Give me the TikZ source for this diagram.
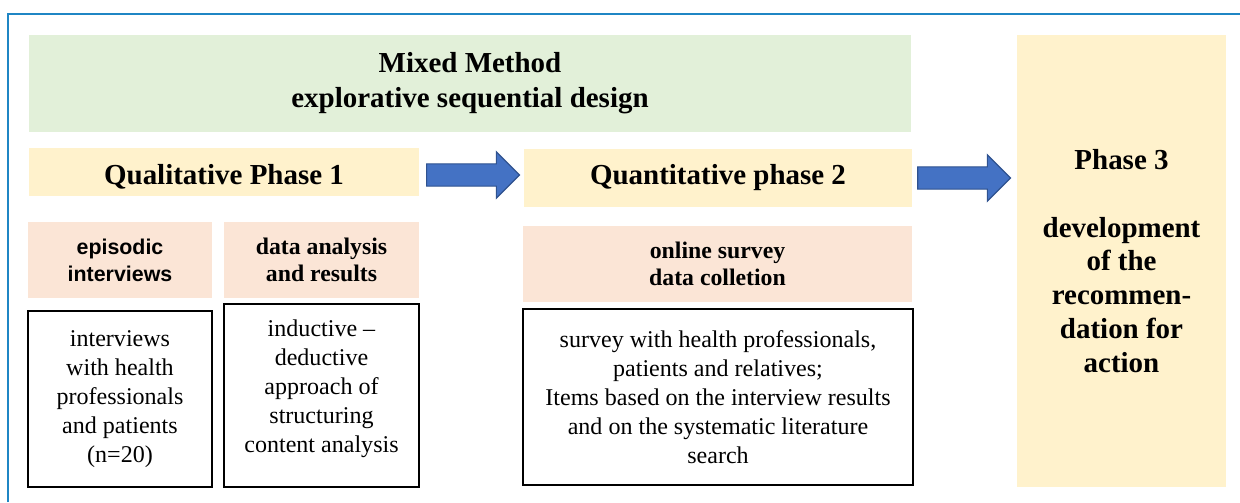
\documentclass[tikz,border=0pt]{standalone}
\usepackage{fontspec}
\setmainfont{Liberation Serif}
\setsansfont{Liberation Sans}
\usetikzlibrary{shapes.arrows}
\usetikzlibrary{calc}
\definecolor{framecol}{HTML}{1F86C4}
\definecolor{mixgreen}{HTML}{E2F0D9}
\definecolor{phyellow}{HTML}{FFF2CC}
\definecolor{subpeach}{HTML}{FBE5D6}
\definecolor{arblue}{HTML}{4472C4}
\definecolor{arline}{HTML}{2F528F}

\begin{document}
\begin{tikzpicture}
[x=0.025cm,y=-0.025cm
,box/.style={rectangle,inner sep=0pt,align=center}
,hd/.style={box,fill=mixgreen,font=\fontsize{20.6}{24.8}\selectfont\bfseries}
,ph/.style={box,fill=phyellow,font=\fontsize{20.6}{24}\selectfont\bfseries}
,sub/.style={box,fill=subpeach,minimum height=19mm,font=\fontsize{16.9}{19.2}\selectfont\bfseries}
,txt/.style={box,draw,line width=1.3pt,font=\fontsize{17.1}{20.6}\selectfont}
,ar/.style={single arrow,draw=arline,fill=arblue,line width=0.8pt,inner xsep=0pt,inner ysep=2.65mm
  ,single arrow head extend=3mm,minimum height=23.2mm}]
\useasboundingbox (0,0) rectangle (1240,502);
\draw[framecol,line width=0.55mm] (8,502) |- (1240,14);
\node[hd,minimum width=220.5mm,minimum height=24.25mm] (mm) at (470,83.5)
  {Mixed Method\\explorative sequential design};
\node[ph,minimum width=97.5mm,minimum height=12mm,text height=21.5pt] (p1) at (224,172) {Qualitative Phase 1};
\node[ph,minimum width=97mm,minimum height=14.5mm] (p2) at (718,178) {Quantitative phase 2};
\node[ph,minimum width=52.25mm,minimum height=113mm] (p3) at (1121.5,261)
  {Phase 3\\[24pt]development\\of the\\recommen-\\dation for\\action};
\node[sub,minimum width=46mm,font=\fontsize{15.2}{19.2}\selectfont\sffamily\bfseries] (s1) at (120,260)
  {episodic\\interviews};
\node[sub,minimum width=48.75mm] (s2) at (321.5,260) {data analysis\\and results};
\node[sub,minimum width=97.25mm] (s3) at (717.5,264) {online survey\\data colletion};
\node[txt,minimum width=46mm,minimum height=44mm] (t1) at (120,399)
  {interviews\\with health\\professionals\\and patients\\(n=20)};
\node[txt,minimum width=48.75mm,minimum height=45.75mm,text depth=13.5pt] (t2) at (321.5,395.5)
  {inductive --\\deductive\\approach of\\structuring\\content analysis};
\node[txt,minimum width=97.5mm,minimum height=44mm] (t3) at (718,397)
  {survey with health professionals,\\patients and relatives;\\Items based on the interview results\\and on the systematic literature\\search};
\node[ar,xshift=-1mm] (a1) at ($(p1.east)!0.5!(p2.west)$) {};
\node[ar,xshift=-1.5mm] (a2) at ($(p2.east)!0.5!(p2.east -| p3.west)$) {};
\end{tikzpicture}
\end{document}
